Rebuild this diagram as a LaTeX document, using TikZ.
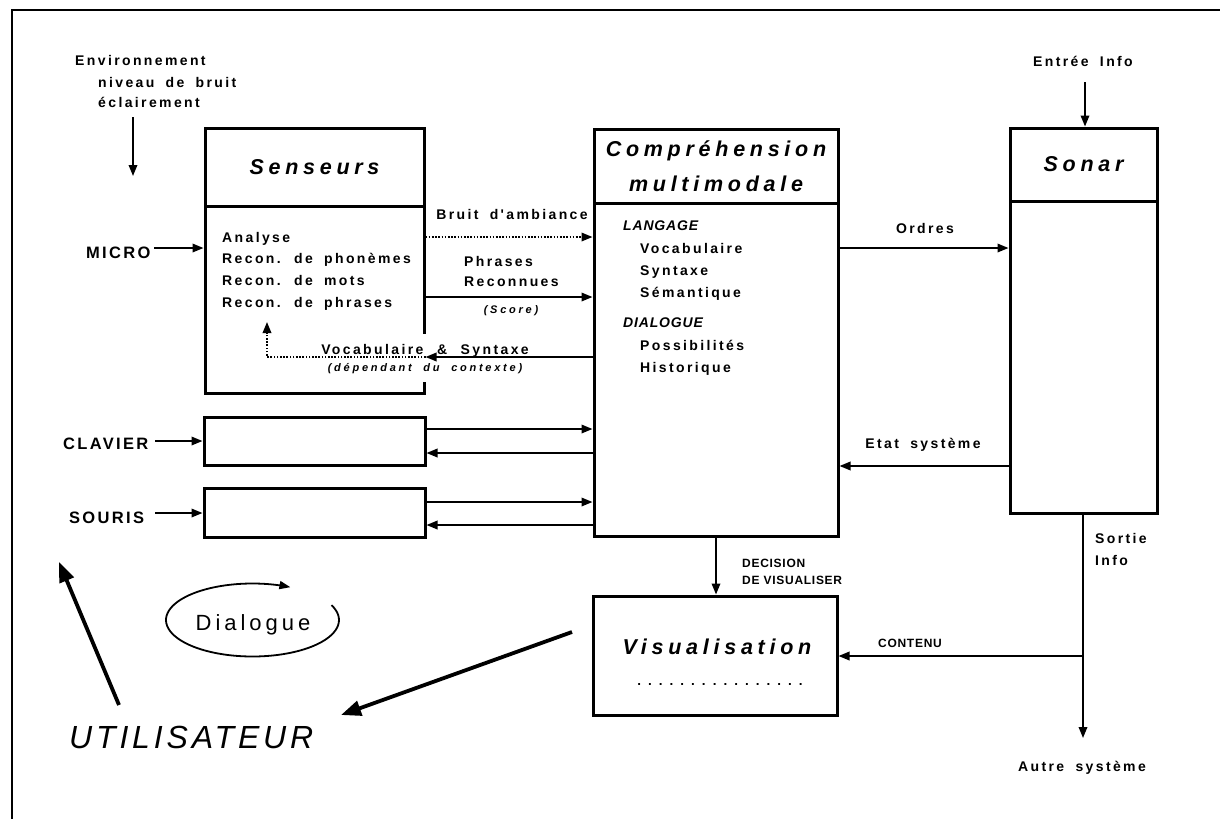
\documentclass[tikz,border=0pt]{standalone}
\usepackage{fontspec}
\setmainfont{Liberation Sans}
\newfontfamily\fL{Liberation Sans}[LetterSpace=17,WordSpace=1.8]
\newfontfamily\fT{Liberation Sans}[LetterSpace=22,WordSpace=1.5]
\newfontfamily\fC{Liberation Sans}[LetterSpace=14]
\newfontfamily\fS{Liberation Sans}[LetterSpace=25,WordSpace=2]
\newfontfamily\fD{Liberation Sans}[LetterSpace=6]
\newfontfamily\fU{Liberation Sans}[LetterSpace=12]
\newfontfamily\fG{Liberation Sans}[LetterSpace=18]
\newfontfamily\fDots{Liberation Sans}[LetterSpace=52]
\usetikzlibrary{arrows.meta}
\tikzset{
  box/.style={draw, line width=3pt, inner sep=0pt},
  ttl/.style={font=\fT\bfseries\itshape\fontsize{21.5}{35}\selectfont, align=center},
  lbl/.style={font=\fL\bfseries\fontsize{14}{16}\selectfont, inner sep=0pt},
  ilbl/.style={font=\fD\bfseries\itshape\fontsize{14}{16}\selectfont, inner sep=0pt},
  caps/.style={font=\fC\bfseries\fontsize{16.5}{18}\selectfont, inner sep=0pt},
  small/.style={font=\fS\bfseries\itshape\fontsize{11}{13}\selectfont, inner sep=0pt},
  dec/.style={font=\fD\bfseries\fontsize{12}{14}\selectfont, inner sep=0pt},
  arr/.style={line width=1.8pt, -{Triangle[length=11pt,width=8.5pt]}},
  dotarr/.style={arr, dash pattern=on 1.6pt off 1.6pt},
  bigarr/.style={line width=3.8pt, -{Triangle[length=20pt,width=15pt]}},
  frame/.style={line width=1.6pt}
}
\begin{document}
\begin{tikzpicture}[x=1pt,y=-1pt]
\fill[white] (0,0) rectangle (1220,819);
\useasboundingbox (0,0) rectangle (1220,819);
% frame
\coordinate (fTL) at (12,10);
\coordinate (fTR) at (1220,10);
\coordinate (fBL) at (12,819);
\draw[frame] (fTR) -- (fTL) -- (fBL);

% boxes
\node[box, minimum width=219pt, minimum height=78pt] (senT) at (314.5,167) {};
\node[ttl] (senTt) at (senT.center) {Senseurs};
\node[box, minimum width=219pt, minimum height=187pt] (senB) at (314.5,299.5) {};
\node[box, minimum width=244pt, minimum height=74pt] (comT) at (716,166) {};
\node[ttl] (comTt) at (comT.center) {Compréhension\\multimodale};
\node[box, minimum width=244pt, minimum height=333pt] (comB) at (716,369.5) {};
\node[box, minimum width=147pt, minimum height=73pt] (sonT) at (1083.5,164.5) {};
\node[ttl] (sonTt) at (sonT.center) {Sonar};
\node[box, minimum width=147pt, minimum height=312pt] (sonB) at (1083.5,357) {};
\node[box, minimum width=244pt, minimum height=119pt] (visu) at (715,655.5) {};
\node[ttl, anchor=base] (visut) at (717,654) {Visualisation};
\node[font=\fDots\bfseries\fontsize{13.5}{15}\selectfont, inner sep=0pt, anchor=base] (dots) at (720,685) {................};
\node[box, minimum width=221pt, minimum height=48pt] (clav) at (314.5,441) {};
\node[box, minimum width=221pt, minimum height=49pt] (sour) at (314.5,512.5) {};

% gap in the Senseurs right edge
\fill[white] (419,334) rectangle (430,382);

% texts
\node[lbl, anchor=base west] (env1) at (75,65) {Environnement};
\node[lbl, anchor=base west] (env2) at (98,87) {niveau de bruit};
\node[lbl, anchor=base west] (env3) at (98,107) {éclairement};
\node[lbl, anchor=base west] (s1) at (222,242) {Analyse};
\node[lbl, anchor=base west] (s2) at (222,263.5) {Recon. de phonèmes};
\node[lbl, anchor=base west] (s3) at (222,285) {Recon. de mots};
\node[lbl, anchor=base west] (s4) at (222,307) {Recon. de phrases};
\node[ilbl, anchor=base west] (c1) at (623,230) {LANGAGE};
\node[lbl, anchor=base west] (c2) at (640,253) {Vocabulaire};
\node[lbl, anchor=base west] (c3) at (640,275) {Syntaxe};
\node[lbl, anchor=base west] (c4) at (640,297) {Sémantique};
\node[ilbl, anchor=base west] (c5) at (623,327) {DIALOGUE};
\node[lbl, anchor=base west] (c6) at (640,350) {Possibilités};
\node[lbl, anchor=base west] (c7) at (640,372) {Historique};
\node[lbl, anchor=base] (bruit) at (512,219) {Bruit d'ambiance};
\node[lbl, anchor=base west] (ph1) at (464,266) {Phrases};
\node[lbl, anchor=base west] (ph2) at (464,286) {Reconnues};
\node[small, anchor=base] (score) at (511,313.5) {(Score)};
\node[lbl, anchor=base] (voc) at (425,354) {Vocabulaire \,\&\, Syntaxe};
\node[small, anchor=base] (dep) at (425,371.5) {(dépendant du contexte)};
\node[lbl, anchor=base] (ordres) at (925,233) {Ordres};
\node[lbl, anchor=base] (etat) at (923,448) {Etat système};
\node[lbl, anchor=base] (entree) at (1083,66) {Entrée Info};
\node[lbl, anchor=base west] (sortie1) at (1095,543) {Sortie};
\node[lbl, anchor=base west] (sortie2) at (1095,565) {Info};
\node[lbl, anchor=base] (autre) at (1082,771) {Autre système};
\node[dec, anchor=base west] (dec1) at (742,567) {DECISION};
\node[dec, anchor=base west] (dec2) at (742,584.5) {DE VISUALISER};
\node[dec, anchor=base] (contenu) at (910,647.5) {CONTENU};
\node[caps, anchor=base west] (micro) at (86,258) {MICRO};
\node[caps, anchor=base west] (clavier) at (63,449) {CLAVIER};
\node[caps, anchor=base west] (souris) at (69,523) {SOURIS};
\node[font=\fU\itshape\fontsize{32}{36}\selectfont, inner sep=0pt, anchor=base west] (user) at (69,748.5) {UTILISATEUR};
\node[font=\fG\fontsize{22}{26}\selectfont, inner sep=0pt, anchor=base] (dial) at (253,630) {Dialogue};

% level coordinates
\coordinate (yMic) at (0,248);
\coordinate (yBr) at (0,237);
\coordinate (yPh) at (0,297);
\coordinate (yVo) at (0,357);
\coordinate (yC1) at (0,429);
\coordinate (yC2) at (0,453);
\coordinate (yCk) at (0,441);
\coordinate (yS1) at (0,502);
\coordinate (yS2) at (0,525);
\coordinate (ySk) at (0,513);
\coordinate (yOr) at (0,248);
\coordinate (yEt) at (0,466);
\coordinate (yCo) at (0,656);

% connectors
\coordinate (envA) at (133,117);
\coordinate (envB) at (133,176);
\draw[arr] (envA) -- (envB);
\coordinate (micA) at (154,248);
\draw[arr] (micA) -- (senB.west |- yMic);
\coordinate (clA) at (155,441);
\draw[arr] (clA) -- (clav.west |- yCk);
\coordinate (soA) at (155,513);
\draw[arr] (soA) -- (sour.west |- ySk);
\draw[dotarr] (senB.east |- yBr) -- (comB.west |- yBr);
\draw[arr] (senB.east |- yPh) -- (comB.west |- yPh);
\draw[arr] (comB.west |- yVo) -- (senB.east |- yVo);
\coordinate (vc) at (267,357);
\coordinate (vt) at (267,322);
\draw[dotarr] (senB.east |- yVo) -- (vc) -- (vt);
\draw[arr] (clav.east |- yC1) -- (comB.west |- yC1);
\draw[arr] (comB.west |- yC2) -- (clav.east |- yC2);
\draw[arr] (sour.east |- yS1) -- (comB.west |- yS1);
\draw[arr] (comB.west |- yS2) -- (sour.east |- yS2);
\draw[arr] (comB.east |- yOr) -- (sonB.west |- yOr);
\draw[arr] (sonB.west |- yEt) -- (comB.east |- yEt);
\coordinate (enA) at (1085,82);
\draw[arr] (enA) -- (enA |- sonT.north);
\draw[arr] (comB.south) -- (comB.south |- visu.north);
\coordinate (soEnd) at (1083,738);
\draw[arr] (sonB.south -| soEnd) -- (soEnd);
\coordinate (br) at (1083,656);
\draw[arr] (br) -- (br -| visu.east);
\coordinate (u1) at (572,632);
\coordinate (u2) at (341,715);
\draw[bigarr] (u1) -- (u2);
\coordinate (u3) at (119,705);
\coordinate (u4) at (59,562);
\draw[bigarr] (u3) -- (u4);
% dialogue loop
\draw[line width=1.8pt, -{Triangle[length=11pt,width=8pt]}] plot[domain=-24:296, samples=80, smooth] ({252.5+86.5*cos(\x)},{620+36.5*sin(\x)});
\end{tikzpicture}
\end{document}
